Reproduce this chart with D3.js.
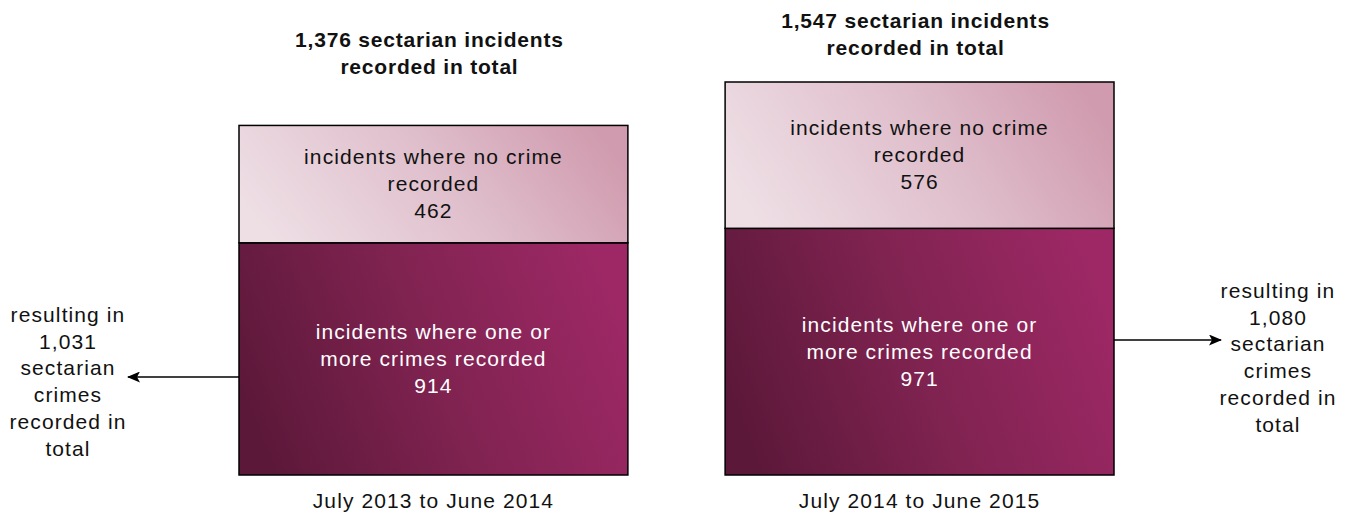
<!DOCTYPE html>
<html>
<head>
<meta charset="utf-8">
<script src="https://cdn.jsdelivr.net/npm/d3@7"></script>
<style>
  html, body { margin: 0; padding: 0; background: #fff; }
  svg { display: block; }
  text { font-family: "Liberation Sans", Arial, sans-serif; font-size: 21px; letter-spacing: 1.1px; }
</style>
</head>
<body>
<svg id="chart" width="1349" height="514"></svg>
<script>
// Sectarian incidents by year, split by whether a crime was recorded
const periods = ["July 2013 to June 2014", "July 2014 to June 2015"];
const crimeIncidents = [914, 971];
const noCrimeIncidents = [462, 576];
const totalIncidents = [1376, 1547];
const crimesRecorded = [1031, 1080];

const segmentLabels = {
  noCrime: ["incidents where no crime", "recorded"],
  crime: ["incidents where one or", "more crimes recorded"]
};

const fmt = d3.format(",");
const svg = d3.select("#chart");

const x = d3.scaleBand().domain(periods).range([239, 1114]).paddingInner(0.2).paddingOuter(0);
const y = d3.scaleLinear().domain([0, d3.max(totalIncidents)]).range([475, 82]);

// gradients: mostly left-to-right, slightly rising towards the top-right
const defs = svg.append("defs");
function grad(id, stops) {
  const g = defs.append("linearGradient").attr("id", id)
    .attr("x1", 0).attr("y1", 0.62).attr("x2", 1).attr("y2", 0.38);
  stops.forEach(([o, c]) => g.append("stop").attr("offset", o).attr("stop-color", c));
}
grad("gNoCrime", [["0%", "#eedfe5"], ["55%", "#dfbecb"], ["100%", "#d09bae"]]);
grad("gCrime", [["0%", "#5c1839"], ["50%", "#802351"], ["100%", "#9d2865"]]);

const marker = defs.append("marker").attr("id", "arrowHead")
  .attr("viewBox", "0 0 13 11").attr("refX", 12).attr("refY", 5.5)
  .attr("markerWidth", 13).attr("markerHeight", 11)
  .attr("markerUnits", "userSpaceOnUse").attr("orient", "auto");
marker.append("path").attr("d", "M0,0 L13,5.5 L0,11 L3,5.5 Z").attr("fill", "#000");

const rows = periods.map((p, i) => ({
  period: p, crime: crimeIncidents[i], noCrime: noCrimeIncidents[i],
  total: totalIncidents[i], crimes: crimesRecorded[i], i
}));

const bars = svg.selectAll("g.bar").data(rows).join("g").attr("class", "bar");

// crime segment (bottom)
bars.append("rect")
  .attr("x", d => x(d.period)).attr("width", x.bandwidth())
  .attr("y", d => y(d.crime)).attr("height", d => y(0) - y(d.crime))
  .attr("fill", "url(#gCrime)").attr("stroke", "#000").attr("stroke-width", 1.5);

// no-crime segment (top)
bars.append("rect")
  .attr("x", d => x(d.period)).attr("width", x.bandwidth())
  .attr("y", d => y(d.crime + d.noCrime)).attr("height", d => y(d.crime) - y(d.crime + d.noCrime))
  .attr("fill", "url(#gNoCrime)").attr("stroke", "#000").attr("stroke-width", 1.5);

const lineH = 27;
function multiline(sel, lines, cx, cy, fill, weight) {
  const t = sel.append("text").attr("text-anchor", "middle").attr("fill", fill)
    .attr("font-weight", weight || "normal");
  const top = cy - (lines.length - 1) * lineH / 2 + 7;
  lines.forEach((l, k) => t.append("tspan").attr("x", cx).attr("y", top + k * lineH).text(l));
  return t;
}

bars.each(function(d) {
  const g = d3.select(this);
  const cx = x(d.period) + x.bandwidth() / 2;
  multiline(g, [...segmentLabels.noCrime, fmt(d.noCrime)], cx,
    (y(d.crime + d.noCrime) + y(d.crime)) / 2, "#111");
  multiline(g, [...segmentLabels.crime, fmt(d.crime)], cx,
    (y(d.crime) + y(0)) / 2, "#fff");
  // period label under the bar
  g.append("text").attr("x", cx).attr("y", 508).attr("text-anchor", "middle")
    .attr("fill", "#111").text(d.period);
});

// headline totals above each bar
const titleBaseline = [47, 28];
rows.forEach(d => {
  const cx = x(d.period) + x.bandwidth() / 2;
  const t = svg.append("text").attr("text-anchor", "middle").attr("font-weight", "bold")
    .attr("fill", "#111").style("letter-spacing", "0.8px");
  [fmt(d.total) + " sectarian incidents", "recorded in total"].forEach((l, k) =>
    t.append("tspan").attr("x", cx - 4).attr("y", titleBaseline[d.i] + k * 26.5).text(l));
});

// crimes resulting from the incidents, with arrows out of the crime segment
const sideNotes = [
  { side: "left", labelX: 68, arrowY: 377, firstBaseline: 322, tip: 128 },
  { side: "right", labelX: 1278, arrowY: 340, firstBaseline: 298, tip: 1221 }
];
rows.forEach(d => {
  const n = sideNotes[d.i];
  const x0 = n.side === "left" ? x(d.period) : x(d.period) + x.bandwidth();
  svg.append("line").attr("x1", x0).attr("x2", n.tip)
    .attr("y1", n.arrowY).attr("y2", n.arrowY)
    .attr("stroke", "#000").attr("stroke-width", 1.5)
    .attr("marker-end", "url(#arrowHead)");
  const t = svg.append("text").attr("text-anchor", "middle").attr("fill", "#111");
  ["resulting in", fmt(d.crimes), "sectarian", "crimes", "recorded in", "total"].forEach((l, k) =>
    t.append("tspan").attr("x", n.labelX).attr("y", n.firstBaseline + k * 26.7).text(l));
});
</script>
</body>
</html>
